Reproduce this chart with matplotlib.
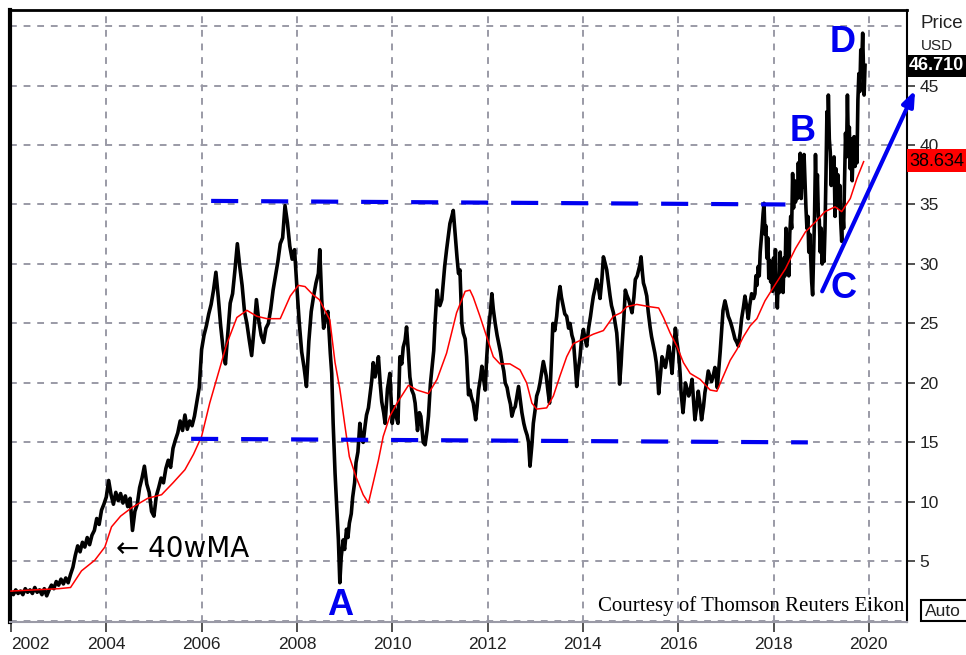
import matplotlib
matplotlib.use("Agg")
import matplotlib.pyplot as plt
from matplotlib.patches import Rectangle

# ---------------- data ----------------
price_t = [2002.0, 2002.05, 2002.1, 2002.15, 2002.2, 2002.25, 2002.3, 2002.35, 2002.4, 2002.45, 2002.5, 2002.55, 2002.6, 2002.65, 2002.7, 2002.75, 2002.8, 2002.85, 2002.9, 2002.95,
           2003.0, 2003.05, 2003.1, 2003.15, 2003.2, 2003.25, 2003.3, 2003.35, 2003.4, 2003.45, 2003.5, 2003.55, 2003.6, 2003.65, 2003.7, 2003.75, 2003.8, 2003.85, 2003.9, 2003.95,
           2004.0, 2004.05, 2004.1, 2004.15, 2004.2, 2004.25, 2004.3, 2004.35, 2004.4, 2004.45, 2004.5, 2004.55, 2004.6, 2004.65, 2004.7, 2004.75, 2004.8, 2004.85, 2004.9, 2004.95,
           2005.0, 2005.05, 2005.1, 2005.15, 2005.2, 2005.25, 2005.3, 2005.35, 2005.4, 2005.45, 2005.5, 2005.55, 2005.6, 2005.65, 2005.7, 2005.75, 2005.8, 2005.85, 2005.9, 2005.95,
           2006.0, 2006.05, 2006.1, 2006.15, 2006.2, 2006.25, 2006.3, 2006.35, 2006.4, 2006.45, 2006.5, 2006.55, 2006.6, 2006.65, 2006.7, 2006.75, 2006.8, 2006.85, 2006.9, 2006.95,
           2007.0, 2007.05, 2007.1, 2007.15, 2007.2, 2007.25, 2007.3, 2007.35, 2007.4, 2007.45, 2007.5, 2007.55, 2007.6, 2007.65, 2007.7, 2007.75, 2007.8, 2007.85, 2007.9, 2007.95,
           2008.0, 2008.05, 2008.1, 2008.15, 2008.2, 2008.25, 2008.3, 2008.35, 2008.4, 2008.45, 2008.48, 2008.52, 2008.56, 2008.6, 2008.65, 2008.7, 2008.73, 2008.76, 2008.8, 2008.84,
           2008.87, 2008.9, 2008.93, 2008.97, 2009.0, 2009.04, 2009.07, 2009.1, 2009.14, 2009.17, 2009.21, 2009.24, 2009.28, 2009.32, 2009.36, 2009.39, 2009.43, 2009.46, 2009.5, 2009.53,
           2009.57, 2009.6, 2009.64, 2009.67, 2009.71, 2009.75, 2009.78, 2009.82, 2009.85, 2009.9, 2009.95, 2010.0, 2010.04, 2010.08, 2010.12, 2010.16, 2010.2, 2010.23, 2010.27, 2010.3,
           2010.34, 2010.37, 2010.41, 2010.45, 2010.48, 2010.53, 2010.57, 2010.6, 2010.65, 2010.69, 2010.73, 2010.76, 2010.8, 2010.84, 2010.87, 2010.9, 2010.94, 2010.97, 2011.0, 2011.04,
           2011.07, 2011.1, 2011.14, 2011.18, 2011.21, 2011.25, 2011.28, 2011.31, 2011.33, 2011.36, 2011.39, 2011.42, 2011.46, 2011.49, 2011.53, 2011.56, 2011.6, 2011.63, 2011.66, 2011.7,
           2011.75, 2011.78, 2011.81, 2011.85, 2011.88, 2011.92, 2011.95, 2011.98, 2012.02, 2012.06, 2012.09, 2012.12, 2012.16, 2012.2, 2012.23, 2012.27, 2012.3, 2012.34, 2012.37, 2012.41,
           2012.44, 2012.48, 2012.51, 2012.55, 2012.58, 2012.62, 2012.65, 2012.69, 2012.72, 2012.76, 2012.79, 2012.83, 2012.86, 2012.89, 2012.93, 2012.96, 2013.0, 2013.03, 2013.07, 2013.1,
           2013.14, 2013.17, 2013.2, 2013.23, 2013.27, 2013.3, 2013.34, 2013.37, 2013.41, 2013.45, 2013.48, 2013.52, 2013.55, 2013.59, 2013.62, 2013.66, 2013.7, 2013.73, 2013.77, 2013.8,
           2013.84, 2013.87, 2013.9, 2013.94, 2013.97, 2014.01, 2014.04, 2014.08, 2014.12, 2014.16, 2014.19, 2014.22, 2014.26, 2014.29, 2014.33, 2014.36, 2014.4, 2014.43, 2014.47, 2014.5,
           2014.54, 2014.57, 2014.6, 2014.64, 2014.67, 2014.71, 2014.74, 2014.77, 2014.8, 2014.82, 2014.86, 2014.89, 2014.92, 2014.96, 2015.0, 2015.03, 2015.07, 2015.1, 2015.14, 2015.17,
           2015.2, 2015.22, 2015.25, 2015.27, 2015.3, 2015.34, 2015.37, 2015.41, 2015.44, 2015.48, 2015.51, 2015.54, 2015.57, 2015.59, 2015.63, 2015.66, 2015.7, 2015.73, 2015.77, 2015.8,
           2015.84, 2015.87, 2015.9, 2015.94, 2015.97, 2016.01, 2016.04, 2016.06, 2016.1, 2016.13, 2016.15, 2016.19, 2016.22, 2016.26, 2016.29, 2016.32, 2016.35, 2016.39, 2016.42, 2016.46,
           2016.49, 2016.53, 2016.56, 2016.6, 2016.63, 2016.67, 2016.7, 2016.74, 2016.77, 2016.8, 2016.82, 2016.85, 2016.88, 2016.91, 2016.94, 2016.98, 2017.02, 2017.05, 2017.09, 2017.12,
           2017.16, 2017.19, 2017.23, 2017.26, 2017.3, 2017.33, 2017.37, 2017.4, 2017.44, 2017.47, 2017.5, 2017.54, 2017.58,
           2017.61, 2017.63, 2017.65, 2017.68, 2017.7, 2017.72, 2017.74, 2017.76, 2017.78, 2017.8, 2017.82, 2017.84, 2017.86, 2017.88, 2017.9, 2017.92, 2017.94, 2017.96, 2017.98, 2018.0,
           2018.02, 2018.04, 2018.06, 2018.08, 2018.1, 2018.12, 2018.14, 2018.16, 2018.18, 2018.2, 2018.22, 2018.24, 2018.26, 2018.28, 2018.3, 2018.32, 2018.34, 2018.36, 2018.38, 2018.4,
           2018.42, 2018.44, 2018.46, 2018.48, 2018.5, 2018.52, 2018.54, 2018.56, 2018.58, 2018.6, 2018.62, 2018.64, 2018.66, 2018.68, 2018.7, 2018.72, 2018.74, 2018.76, 2018.78, 2018.8,
           2018.82, 2018.84, 2018.86, 2018.88, 2018.9, 2018.92, 2018.94, 2018.96, 2018.98, 2019.0, 2019.02, 2019.04, 2019.06, 2019.08, 2019.1, 2019.12, 2019.14, 2019.15, 2019.17, 2019.19,
           2019.21, 2019.23, 2019.25, 2019.27, 2019.29, 2019.31, 2019.33, 2019.35, 2019.37, 2019.39, 2019.41, 2019.43, 2019.45, 2019.47, 2019.49, 2019.51, 2019.53, 2019.55, 2019.57, 2019.59,
           2019.61, 2019.63, 2019.65, 2019.67, 2019.69, 2019.71, 2019.73, 2019.75, 2019.77, 2019.79, 2019.81, 2019.83, 2019.85, 2019.87, 2019.89, 2019.9, 2019.92]

price_v = [2.4, 2.2, 2.6, 2.3, 2.5, 2.2, 2.7, 2.4, 2.6, 2.3, 2.8, 2.4, 2.6, 2.2, 2.7, 2.1, 2.6, 3.0, 2.7, 3.3,
           3.0, 3.5, 3.1, 3.6, 3.2, 3.9, 4.5, 5.5, 6.3, 5.8, 6.6, 6.2, 7.0, 6.4, 7.2, 7.6, 8.6, 8.1, 9.3, 9.8,
           10.4, 11.8, 10.6, 9.8, 10.8, 10.1, 10.7, 9.9, 10.5, 9.6, 10.3, 7.6, 9.2, 9.8, 11.2, 12.0, 13.0, 11.5, 10.8, 9.2,
           8.8, 10.5, 11.2, 12.0, 11.6, 12.8, 13.5, 12.9, 14.5, 15.2, 15.8, 16.8, 16.0, 17.3, 16.1, 16.8, 16.4, 17.2, 18.4, 19.6,
           22.8, 24.0, 24.8, 25.8, 26.6, 27.8, 29.3, 27.2, 24.8, 22.9, 21.6, 24.2, 26.7, 27.5, 29.5, 31.7, 29.8, 28.2, 26.0, 25.0,
           23.6, 22.3, 24.5, 27.0, 25.2, 24.0, 23.4, 24.6, 25.0, 26.2, 27.8, 29.0, 30.2, 31.7, 32.2, 34.9, 33.5, 31.5, 30.4, 31.2,
           28.0, 25.0, 22.6, 21.3, 19.7, 23.5, 26.0, 27.3, 28.4, 29.2, 31.2, 27.0, 24.6, 25.5, 26.0, 22.5, 20.8, 16.6, 12.4, 9.3,
           6.8, 3.2, 5.4, 6.8, 6.0, 7.7, 7.0, 8.2, 9.0, 10.4, 11.6, 13.3, 14.2, 16.6, 15.2, 15.0, 16.4, 17.3, 17.9, 18.9,
           20.2, 21.7, 20.5, 21.1, 22.2, 19.8, 18.4, 17.5, 16.6, 19.5, 20.8, 16.6, 18.0, 17.2, 16.6, 22.2, 21.6, 23.0, 23.6, 24.7,
           22.5, 20.5, 19.4, 19.0, 18.3, 16.0, 17.5, 17.2, 15.0, 14.8, 16.0, 17.2, 19.9, 21.5, 22.7, 25.2, 27.8, 26.8, 26.5, 27.0,
           28.4, 29.8, 31.2, 32.5, 33.4, 34.0, 34.5, 33.0, 32.0, 30.5, 29.2, 29.5, 25.0, 24.2, 23.7, 22.2, 19.0, 19.4, 18.8, 18.3,
           16.9, 18.0, 19.4, 20.4, 21.4, 20.2, 19.4, 22.0, 24.5, 26.0, 27.5, 26.2, 25.0, 24.0, 23.4, 22.6, 21.8, 21.0, 20.0, 19.6,
           18.9, 18.2, 17.2, 17.8, 18.0, 19.0, 19.7, 18.4, 17.5, 16.6, 16.1, 15.6, 15.0, 13.0, 14.8, 16.6, 17.8, 18.9, 19.4, 20.0,
           21.0, 21.8, 21.2, 20.6, 19.2, 18.3, 22.0, 25.0, 24.4, 25.6, 27.0, 28.1, 27.2, 26.4, 25.8, 25.6, 24.6, 25.0, 24.0, 23.6,
           21.5, 19.7, 21.0, 22.2, 23.6, 24.5, 23.8, 23.1, 24.6, 25.6, 26.5, 27.3, 28.0, 28.7, 27.9, 27.1, 28.8, 30.6, 30.0, 29.5,
           28.2, 27.3, 26.5, 25.9, 25.2, 24.2, 22.5, 19.9, 21.5, 23.0, 25.5, 27.8, 27.4, 27.0, 26.4, 25.9, 27.2, 28.7, 29.0, 29.5,
           30.0, 30.6, 29.2, 28.4, 28.0, 27.3, 26.0, 24.7, 23.9, 23.1, 22.5, 21.7, 20.4, 19.1, 20.8, 22.2, 21.8, 21.3, 22.2, 23.1,
           22.0, 20.8, 22.6, 24.6, 23.5, 22.4, 20.8, 19.2, 17.5, 18.8, 20.0, 19.4, 18.9, 19.6, 20.3, 18.6, 16.9, 18.1, 19.3, 18.1,
           16.9, 18.0, 19.2, 20.1, 21.0, 20.5, 20.1, 20.7, 21.3, 20.4, 19.6, 21.1, 22.6, 24.4, 26.1, 26.9, 26.2, 25.6, 25.2, 24.8,
           24.2, 23.7, 23.4, 23.1, 24.2, 25.4, 26.4, 27.3, 26.3, 25.4, 26.5, 27.5, 27.1,
           27.5, 29.0, 28.2, 29.8, 29.0, 31.0, 32.0, 33.0, 34.2, 35.1, 32.5, 33.2, 30.5, 32.2, 28.8, 30.3, 28.5, 30.0, 27.7, 30.5,
           29.0, 31.2, 28.0, 26.3, 29.0, 27.6, 31.0, 28.5, 30.2, 27.6, 30.5, 29.0, 33.0, 29.5, 32.0, 29.0, 32.5, 34.0, 33.0, 37.6,
           34.7, 37.0, 35.2, 36.8, 35.5, 38.5, 36.0, 39.3, 35.5, 38.0, 36.5, 39.2, 37.0, 34.7, 33.0, 34.0, 31.0, 32.5, 30.4, 28.5,
           27.4, 30.8, 34.0, 39.2, 35.5, 37.5, 34.0, 33.7, 31.0, 33.0, 30.0, 32.5, 30.2, 33.0, 37.5, 42.8, 40.0, 44.2, 40.5, 39.4,
           36.6, 38.5, 37.0, 39.0, 34.0, 38.0, 35.5, 37.5, 34.8, 36.6, 33.5, 31.9, 34.5, 33.0, 37.0, 41.0, 39.0, 44.2, 40.0, 41.5,
           38.0, 40.5, 37.0, 39.5, 40.7, 38.2, 40.0, 38.5, 43.8, 46.0, 44.5, 48.0, 47.0, 49.4, 46.0, 44.2, 46.7]

ma_t = [2002.0, 2002.5, 2003.0, 2003.25, 2003.48, 2003.76, 2003.97, 2004.11, 2004.3, 2004.53, 2004.87, 2005.16, 2005.4, 2005.65, 2005.83,
        2006.0, 2006.17, 2006.35, 2006.53, 2006.74, 2006.95, 2007.16, 2007.37, 2007.65, 2007.86, 2008.03, 2008.17, 2008.34, 2008.47, 2008.69,
        2008.8, 2008.9, 2009.0, 2009.1, 2009.24, 2009.39, 2009.5, 2009.6, 2009.71, 2009.81, 2009.95, 2010.1, 2010.34, 2010.52, 2010.76,
        2010.94, 2011.14, 2011.35, 2011.53, 2011.63, 2011.7, 2011.84, 2011.98, 2012.12, 2012.26, 2012.47, 2012.68, 2012.82, 2012.93, 2013.03,
        2013.24, 2013.38, 2013.52, 2013.66, 2013.8, 2014.01, 2014.22, 2014.43, 2014.64, 2014.8, 2014.92, 2015.13, 2015.41, 2015.59, 2015.69,
        2015.83, 2015.97, 2016.11, 2016.25, 2016.46, 2016.67, 2016.81, 2016.95, 2017.09, 2017.23, 2017.37, 2017.51, 2017.65, 2017.82, 2018.04,
        2018.25, 2018.46, 2018.67, 2018.87, 2019.08, 2019.29, 2019.43, 2019.61, 2019.75, 2019.89]
ma_v = [2.5, 2.6, 2.7, 2.8, 4.2, 5.1, 6.2, 7.9, 8.8, 9.5, 10.3, 10.6, 11.6, 12.7, 14.0,
        15.5, 18.3, 20.8, 23.3, 25.5, 26.1, 25.6, 25.4, 25.4, 27.3, 28.2, 28.1, 27.4, 27.0, 25.3,
        21.7, 19.5, 16.6, 13.8, 12.1, 10.6, 9.9, 11.6, 13.5, 15.5, 17.2, 18.3, 19.8, 19.4, 19.1,
        20.3, 22.5, 25.9, 27.7, 27.8, 27.2, 25.6, 23.9, 22.2, 21.6, 21.6, 21.1, 20.0, 18.3, 17.8,
        17.9, 18.9, 20.6, 22.2, 23.3, 23.7, 24.1, 24.4, 25.6, 25.9, 26.4, 26.6, 26.4, 26.3, 25.5,
        24.2, 23.1, 21.7, 20.8, 20.3, 19.4, 19.3, 20.6, 21.9, 22.8, 23.9, 24.8, 25.4, 26.9, 28.3,
        29.6, 31.3, 32.7, 33.5, 34.4, 34.8, 34.4, 35.5, 37.2, 38.6]

resist_t = [2006.2, 2018.25]
resist_v = [35.3, 35.0]
support_t = [2005.78, 2018.72]
support_v = [15.3, 15.0]
trend_t = [2019.02, 2020.97]
trend_v = [27.7, 44.6]

year_ticks = [2002, 2004, 2006, 2008, 2010, 2012, 2014, 2016, 2018, 2020]
price_ticks = [5, 10, 15, 20, 25, 30, 35, 40, 45]
last_price = "46.710"
last_ma = "38.634"

letters = ["A", "B", "C", "D"]
letter_t = [2008.9, 2018.62, 2019.46, 2019.44]
letter_v = [1.3, 41.1, 27.9, 48.6]

# ---------------- figure ----------------
BLUE = "#0000F0"
GRID = "#9a9aa6"

fig = plt.figure(figsize=(9.66, 6.55), dpi=100)
ax = fig.add_axes([10/966, 33/655, 897/966, 612/655])
ax.set_xlim(2001.98, 2020.80)
ax.set_ylim(-0.1, 51.35)

# grid
for yv in range(0, 55, 5):
    ax.axhline(yv, color=GRID, lw=1.4, ls=(0, (3.5, 3.5)), zorder=0)
for xv in year_ticks:
    ax.axvline(xv, color=GRID, lw=1.4, ls=(0, (3.5, 3.5)), zorder=0)

# series
ax.plot(price_t, price_v, color="black", lw=2.6, zorder=3)
ax.plot(ma_t, ma_v, color="#ff0000", lw=1.1, zorder=4)

# support/resistance
ax.plot(resist_t, resist_v, color=BLUE, lw=3.0, ls=(0, (6.5, 5.5)), zorder=5)
ax.plot(support_t, support_v, color=BLUE, lw=3.0, ls=(0, (6.5, 5.5)), zorder=5)

# trend arrow
ax.annotate("", xy=(trend_t[1], trend_v[1]), xytext=(trend_t[0], trend_v[0]),
            arrowprops=dict(arrowstyle="-|>,head_length=0.9,head_width=0.35", color=BLUE, lw=3.0,
                            shrinkA=0, shrinkB=0),
            annotation_clip=False, zorder=6)

# letters
for s, tx, vy in zip(letters, letter_t, letter_v):
    ax.text(tx, vy, s, color=BLUE, fontsize=26, fontweight="bold", family="Liberation Sans",
            ha="center", va="center", zorder=7)

ax.text(2004.2, 6.0, "\u2190 40wMA", fontsize=20, family="DejaVu Sans", color="black",
        ha="left", va="center", zorder=7)
ax.text(2020.75, 1.2, "Courtesy of Thomson Reuters Eikon", fontsize=15, family="Liberation Serif",
        ha="right", va="center", zorder=7)

# axes styling
ax.xaxis.set_ticks(year_ticks)
ax.set_xticklabels([str(y) for y in year_ticks], fontsize=12.5, color="#222222", family="Liberation Sans")
ax.get_xticklabels()[0].set_horizontalalignment("left")
ax.tick_params(axis="x", length=7, width=1.2, color="#333333", pad=4)
ax.yaxis.tick_right()
ax.set_yticks(price_ticks)
ax.set_yticklabels([str(p) for p in price_ticks], fontsize=12.5, color="#222222", family="Liberation Sans")
ax.tick_params(axis="y", length=6, width=1.2, color="#333333", pad=3)

for side in ["left", "top", "right"]:
    ax.spines[side].set_color("black")
ax.spines["left"].set_linewidth(3.0)
ax.spines["top"].set_linewidth(2.0)
ax.spines["right"].set_linewidth(1.5)
ax.spines["bottom"].set_color("#9a9aa6")
ax.spines["bottom"].set_linewidth(1.5)

# right panel labels
fig.text(921/966, 1 - 24/655, "Price", fontsize=13.5, family="Liberation Sans", color="#222222",
         ha="left", va="center")
fig.text(921/966, 1 - 46/655, "USD", fontsize=11, family="Liberation Sans", color="#222222",
         ha="left", va="center", zorder=1)
fig.patches.append(Rectangle((907/966, 1 - 77/655), 59/966, 22/655, transform=fig.transFigure,
                             facecolor="black", edgecolor="none", zorder=10))
fig.text(909/966, 1 - 66/655, last_price, fontsize=13, fontweight="bold", color="white",
         family="Liberation Sans", ha="left", va="center", zorder=11)
fig.patches.append(Rectangle((907/966, 1 - 172/655), 59/966, 23/655, transform=fig.transFigure,
                             facecolor="#ff0000", edgecolor="none", zorder=10))
fig.text(909/966, 1 - 161/655, last_ma, fontsize=13, color="black",
         family="Liberation Sans", ha="left", va="center", zorder=11)
fig.patches.append(Rectangle((921/966, 1 - 621/655), 50/966, 21/655, transform=fig.transFigure,
                             facecolor="white", edgecolor="black", lw=1.5, zorder=10))
fig.text(925/966, 1 - 611/655, "Auto", fontsize=12.5, color="#222222",
         family="Liberation Sans", ha="left", va="center", zorder=11)

fig.savefig("out.png", dpi=100)
